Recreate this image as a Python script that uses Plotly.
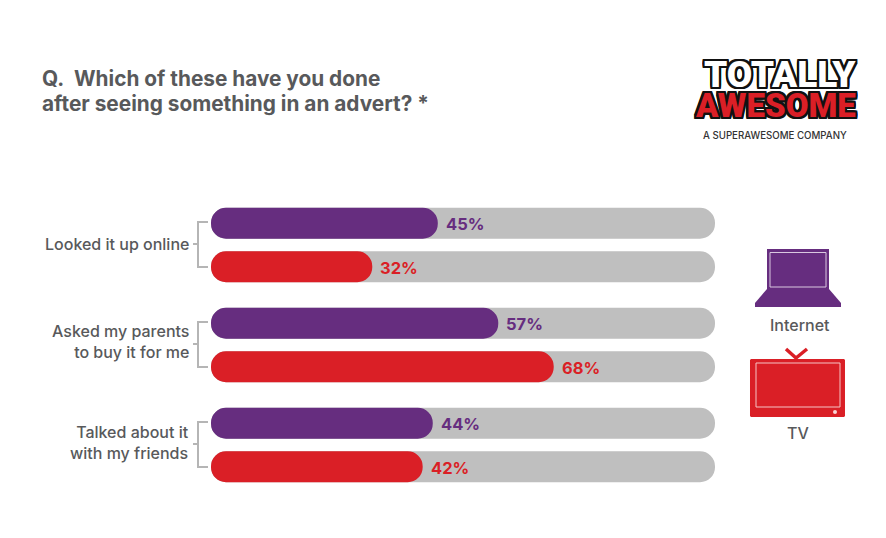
import plotly.graph_objects as go

categories = ["Looked it up online", "Asked my parents<br>to buy it for me", "Talked about it<br>with my friends"]
series_names = ["Internet", "TV"]
internet = [45, 57, 44]
tv = [32, 68, 42]
track = [100, 100, 100]

W, H = 886, 538
PURPLE, RED, GREY, TEXT = "#662d7f", "#da1f26", "#bfbfbf", "#58595b"
FONT = "Inter"
PX_PER_UNIT = 5.04
X0 = 211
GROUP_PX = 100
G0 = 245
OFF = 0.2175
BAR = 0.31


def px(x):
    return x / W


def py(y):
    return 1 - y / H


groups = list(range(len(categories)))
y_int = [g - OFF for g in groups]
y_tv = [g + OFF for g in groups]

fig = go.Figure()


def add_bars(ys, vals, color):
    # an explicit base makes plotly round both ends of the bar
    marker = dict(color=color, cornerradius=15.5, line_width=0)
    fig.add_bar(y=ys, x=vals, base=[0] * len(ys), orientation="h", width=BAR, marker=marker, hoverinfo="skip", showlegend=False)


add_bars(y_int + y_tv, track + track, GREY)
add_bars(y_int, internet, PURPLE)
add_bars(y_tv, tv, RED)

ann = []
for ys, vals, color in ((y_int, internet, PURPLE), (y_tv, tv, RED)):
    for y, v in zip(ys, vals):
        ann.append(dict(x=v, y=y, xref="x", yref="y", text=f"<b>{v}%</b>", xanchor="left", yanchor="middle", xshift=6, yshift=-1, showarrow=False, font=dict(family=FONT, size=16.5, color=color)))


def label(x, y, text, anchor, size, color=TEXT, weight=500, family=FONT, **font_kw):
    ann.append(dict(x=px(x), y=py(y), xref="paper", yref="paper", text=text, xanchor=anchor, align=anchor if anchor != "center" else "center", yanchor="middle", showarrow=False,
                    font=dict(family=family, size=size, color=color, weight=weight, **font_kw)))


label_y = [244, 341.5, 442.5]
for c, y in zip(categories, label_y):
    label(191, y, c, "right", 16)

label(40, 78, "Q.&nbsp;&nbsp;Which of these have you done", "left", 20.8, weight=700)
label(40, 103, "after seeing something in an advert? *", "left", 20.8, weight=700)
label(799.5, 325, series_names[0], "center", 16)
label(798, 433, series_names[1], "center", 16)

outline = ",".join(f"{a}px {b}px 0 #111" for a in (-2, -1, 0, 1, 2) for b in (-2, -1, 0, 1, 2))
label(780, 74, "TOTALLY", "center", 37, color="#ffffff", weight=900, family="Roboto", shadow=outline)
label(775, 105, "AWESOME", "center", 33, color=RED, weight=900, family="Roboto", shadow=outline)
label(775, 135, "A SUPERAWESOME COMPANY", "center", 9.7, color="#333333")

shapes = []


def path(d_pts, close=True, **kw):
    d = "M" + " L".join(f"{px(x):.5f},{py(y):.5f}" for x, y in d_pts) + (" Z" if close else "")
    shapes.append(dict(type="path", path=d, xref="paper", yref="paper", layer="above", **kw))


def rect(x0, y0, x1, y1, **kw):
    shapes.append(dict(type="rect", x0=px(x0), x1=px(x1), y0=py(y0), y1=py(y1), xref="paper", yref="paper", layer="above", **kw))


bracket = dict(width=2, color="#b5b5b5")
for tick_from, top, bot, mid in ((193, 222, 267, 244), (193, 322, 367, 344), (193, 422, 467, 444)):
    path([(208, top), (198, top), (198, bot), (208, bot)], close=False, line=bracket)
    path([(tick_from, mid), (198, mid)], close=False, line=bracket)

# laptop
rect(767, 249, 829, 291, fillcolor=PURPLE, line_width=0)
rect(770, 252.5, 826, 287, fillcolor=PURPLE, line=dict(color="#d9c8e0", width=1))
path([(767, 289), (829, 289), (841, 303), (841, 307), (755, 307), (755, 303)], fillcolor=PURPLE, line_width=0)

# television
path([(786, 349), (796, 358), (807, 349)], close=False, line=dict(color=RED, width=3.5))
path([(751, 359), (844, 359), (845, 360), (845, 416), (844, 417), (751, 417), (750, 416), (750, 360)], fillcolor=RED, line_width=0)
rect(756, 363, 840, 407, fillcolor=RED, line=dict(color="#f6c4c4", width=1))
shapes.append(dict(type="circle", x0=px(833), x1=px(837), y0=py(410), y1=py(414), xref="paper", yref="paper", fillcolor="#f8d5d5", line_width=0, layer="above"))

fig.update_layout(
    width=W, height=H, autosize=False, barmode="overlay",
    margin=dict(l=0, r=0, t=0, b=0),
    paper_bgcolor="#ffffff", plot_bgcolor="#ffffff",
    xaxis=dict(visible=False, range=[-X0 / PX_PER_UNIT, (W - X0) / PX_PER_UNIT]),
    yaxis=dict(visible=False, range=[(H - G0) / GROUP_PX, -G0 / GROUP_PX]),
    annotations=ann, shapes=shapes,
)
fig.write_html("out.html", config=dict(displayModeBar=False), post_script="document.body.style.margin='0';")
